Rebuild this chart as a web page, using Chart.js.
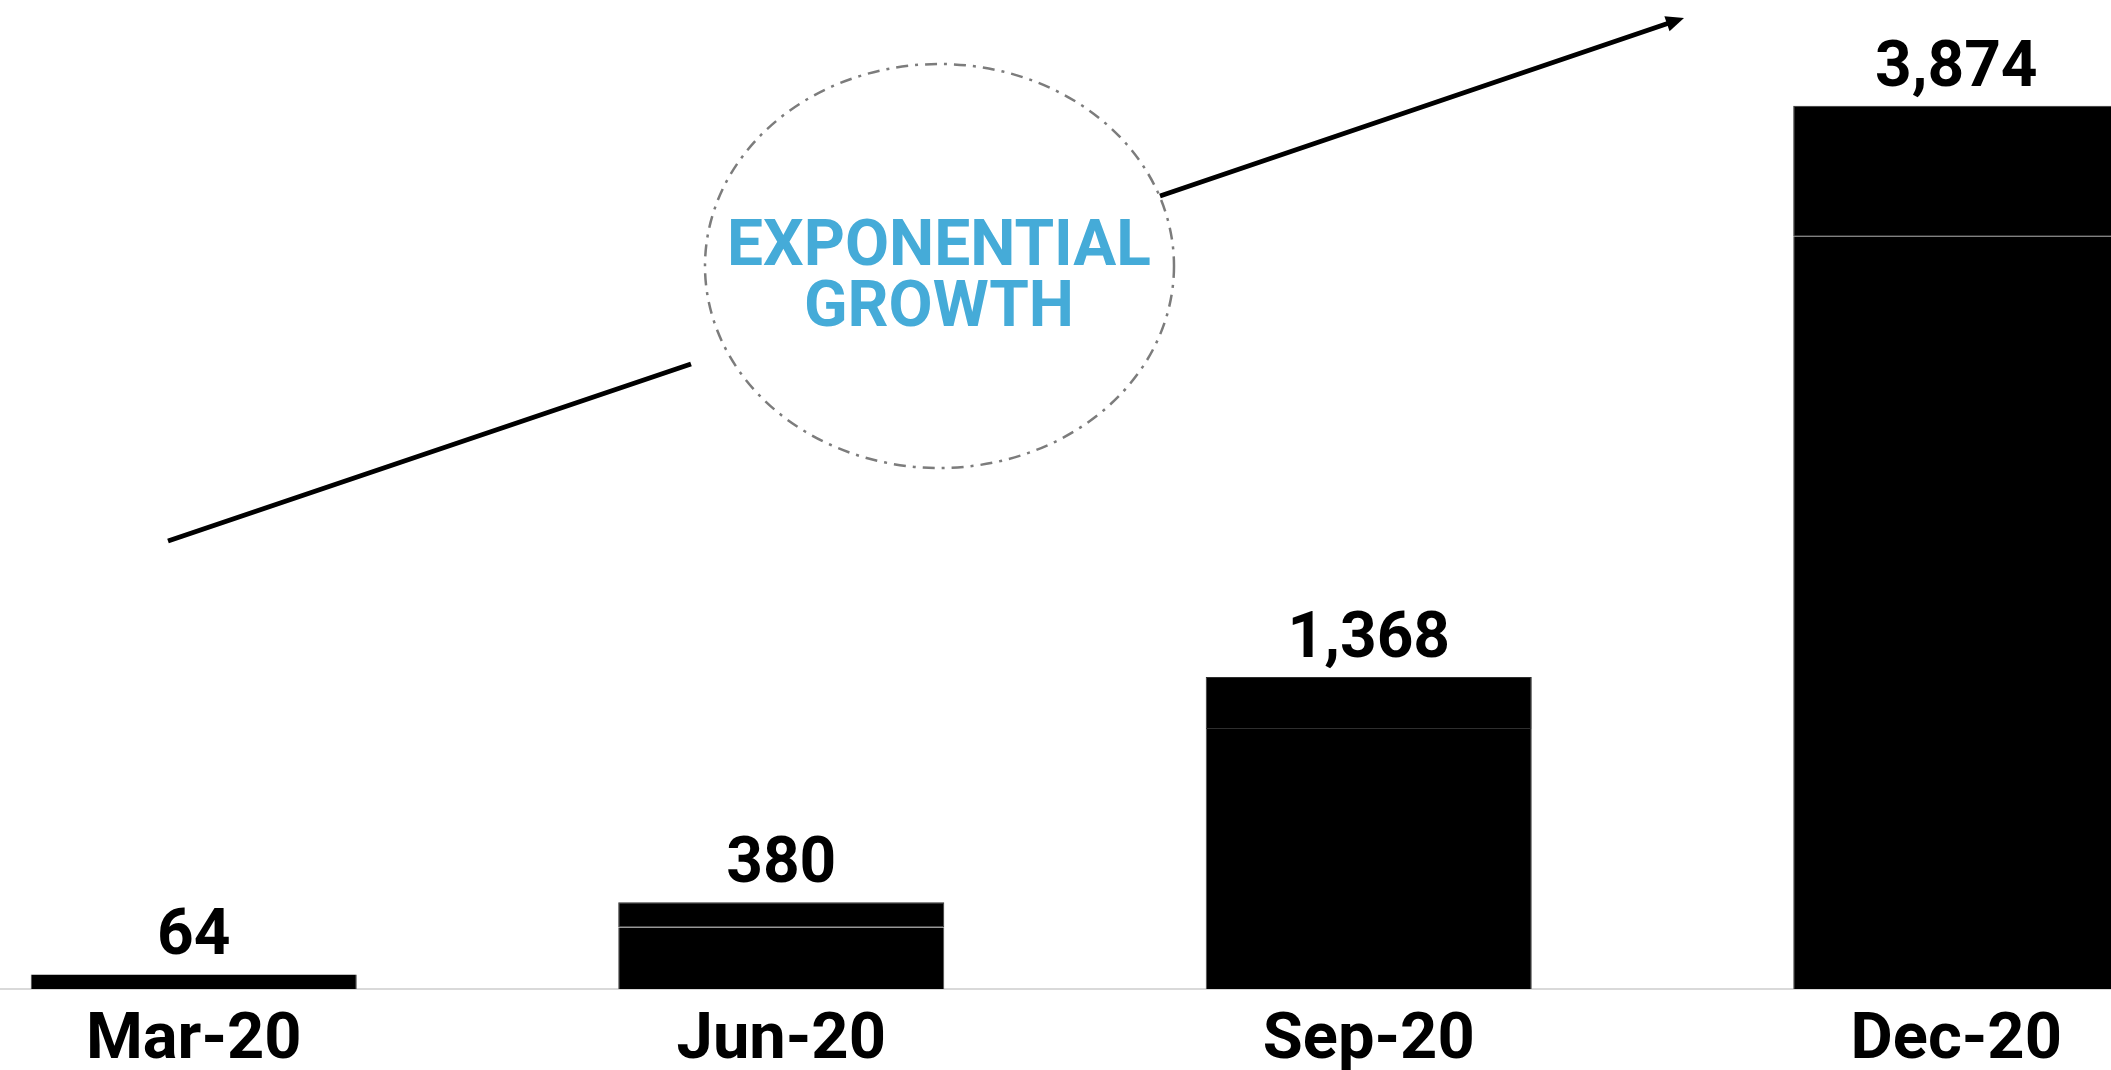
<!DOCTYPE html>
<html>
<head>
<meta charset="utf-8">
<title>Exponential growth</title>
<script src="https://cdn.jsdelivr.net/npm/chart.js@4/dist/chart.umd.min.js"></script>
<style>
    html, body { margin: 0; padding: 0; background: #ffffff; overflow: hidden; }
    #wrap { position: relative; width: 2111px; height: 1070px; overflow: hidden; }
    #myChart { position: absolute; left: -100px; top: 0; }
</style>
</head>
<body>
<div id="wrap">
    <canvas id="myChart" width="2350" height="1095"></canvas>
</div>
<script>
// quarters
var trimestres = ["Mar-20", "Jun-20", "Sep-20", "Dec-20"];

// each bar is two stacked pieces
var base = [64, 270, 1140, 3299];
var tope = [null, 110, 228, 575];

var eje_max = 4000;

function total(i)
{
    return base[i] + (tope[i] || 0);
}

// value printed over every bar
var etiquetas = {
    id: 'etiquetas',
    afterDatasetsDraw: function(chart)
    {
        var ctx = chart.ctx;
        var m_base = chart.getDatasetMeta(0);
        var m_tope = chart.getDatasetMeta(1);
        ctx.save();
        ctx.font = "bold 64px Roboto";
        ctx.fillStyle = "#000000";
        ctx.textAlign = "center";
        ctx.textBaseline = "alphabetic";
        for (var i = 0; i < trimestres.length; i++)
        {
            var el = tope[i] != null ? m_tope.data[i] : m_base.data[i];
            ctx.fillText(new Intl.NumberFormat('en-US').format(total(i)), el.x, el.y - 20);
        }
        ctx.restore();
    }
};

// circled note and the trend arrow
var nota = {
    id: 'nota',
    afterDraw: function(chart)
    {
        var ctx = chart.ctx;
        var dx = 100; // canvas sits 100px left of the page

        ctx.save();
        ctx.translate(dx, 0);

        ctx.strokeStyle = "#7c7c7c";
        ctx.lineWidth = 2.5;
        ctx.setLineDash([12, 7, 3, 7]);
        ctx.beginPath();
        ctx.ellipse(939.5, 266, 234.5, 202, 0, 0, Math.PI * 2);
        ctx.stroke();
        ctx.setLineDash([]);

        ctx.fillStyle = "#45abd8";
        ctx.font = "bold 64px Roboto";
        ctx.textAlign = "center";
        ctx.textBaseline = "alphabetic";
        ctx.fillText("EXPONENTIAL", 939, 265);
        ctx.fillText("GROWTH", 939, 326);

        ctx.strokeStyle = "#000000";
        ctx.lineWidth = 5;
        ctx.lineCap = "butt";
        ctx.beginPath();
        ctx.moveTo(168, 541);
        ctx.lineTo(691, 364);
        ctx.moveTo(1160, 196);
        ctx.lineTo(1672, 22);
        ctx.stroke();

        // arrow head
        var tx = 1684, ty = 18;
        var ang = Math.atan2(22 - 196, 1672 - 1160);
        var largo = 18, ancho = 8;
        ctx.fillStyle = "#000000";
        ctx.beginPath();
        ctx.moveTo(tx, ty);
        ctx.lineTo(tx - largo * Math.cos(ang) + ancho * Math.sin(ang), ty - largo * Math.sin(ang) - ancho * Math.cos(ang));
        ctx.lineTo(tx - largo * Math.cos(ang) - ancho * Math.sin(ang), ty - largo * Math.sin(ang) + ancho * Math.cos(ang));
        ctx.closePath();
        ctx.fill();

        ctx.restore();
    }
};

var ctx = document.getElementById("myChart").getContext('2d');
var myChart = new Chart(ctx, {
    type: 'bar',
    data: {
        labels: trimestres,
        datasets: [{
            label: 'Base',
            data: base,
            backgroundColor: '#000000',
            borderColor: '#4a4a4a',
            borderWidth: { left: 1, right: 1, top: 0, bottom: 0 },
            borderSkipped: false,
            barPercentage: 0.555,
            categoryPercentage: 1
        }, {
            label: 'Tope',
            data: tope,
            backgroundColor: '#000000',
            borderColor: '#2e2e2e',
            borderWidth: 1,
            borderSkipped: false,
            barPercentage: 0.555,
            categoryPercentage: 1
        }]
    },
    options: {
        responsive: false,
        animation: false,
        layout: { padding: { top: 77, right: 0, bottom: 0, left: 0 } },
        plugins: {
            legend: { display: false },
            tooltip: { enabled: false }
        },
        scales: {
            x: {
                stacked: true,
                grid: { display: false, drawTicks: false },
                border: { display: true, color: '#d9d9d9', width: 2 },
                ticks: {
                    color: '#000000',
                    font: { family: 'Roboto', weight: 'bold', size: 65 },
                    padding: 14,
                    maxRotation: 0,
                    autoSkip: false
                }
            },
            y: {
                stacked: true,
                display: false,
                min: 0,
                max: eje_max
            }
        }
    },
    plugins: [etiquetas, nota]
});
</script>
</body>
</html>
